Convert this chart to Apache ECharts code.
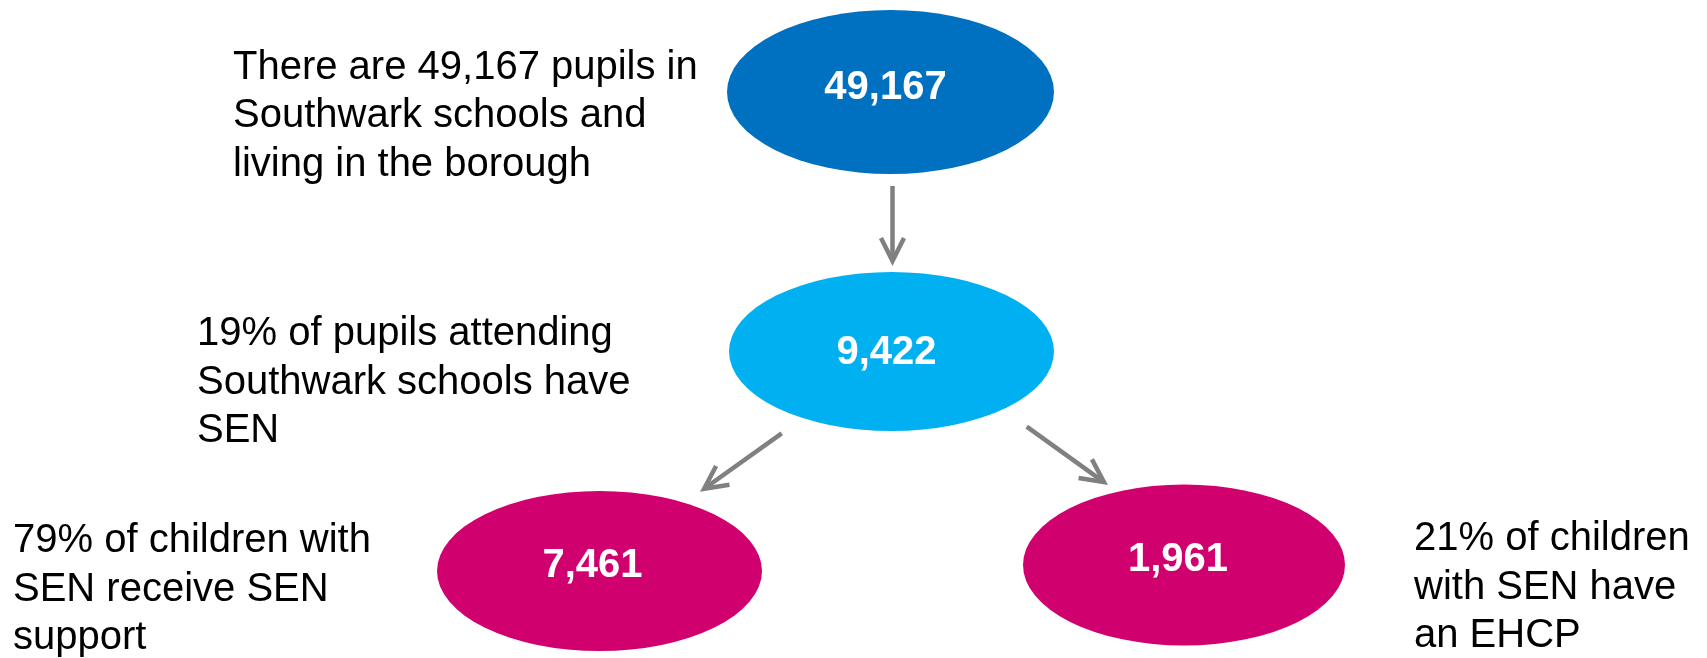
<!DOCTYPE html>
<html>
<head>
<meta charset="utf-8">
<script src="https://cdn.jsdelivr.net/npm/echarts@6/dist/echarts.min.js"></script>
<style>
  html, body { margin: 0; padding: 0; background: #fff; }
  #chart { width: 1707px; height: 658px; }
</style>
</head>
<body>
<div id="chart"></div>
<script>
// data
const nodeNames = ['pupils', 'sen', 'senSupport', 'ehcp']
const nodeValues = [49167, 9422, 7461, 1961]
const captions = [
  'There are 49,167 pupils in\nSouthwark schools and\nliving in the borough',
  '19% of pupils attending\nSouthwark schools have\nSEN',
  '79% of children with\nSEN receive SEN\nsupport',
  '21% of children\nwith SEN have\nan EHCP'
]
const links = [[0, 1], [1, 2], [1, 3]]

// layout (in pixel units of the hidden axes)
const nodeX = [890.5, 891.5, 599.5, 1184]
const nodeY = [92, 351.5, 571, 565]
const nodeW = [327, 325, 325, 322]
const nodeH = [164, 159, 160, 161]
const nodeColors = ['#0070C0', '#00B0F0', '#D0006F', '#D0006F']
const labelOffsets = [[-5, -4], [-5, 1], [-7, -5], [-6, -5]]
const captionX = [233, 197, 13, 1414]
const captionY = [43.5, 310, 517, 515]
const arrowFrom = [[892.5, 186], [781.7, 433.3], [1026.7, 426.7]]
const arrowTo = [[892.5, 266], [700, 491.7], [1108, 485]]

let myChart = echarts.init(document.getElementById('chart'))

const nodeData = nodeValues.map((v, i) => ({
  name: nodeNames[i],
  value: [nodeX[i], nodeY[i], v],
  symbolSize: [nodeW[i], nodeH[i]],
  itemStyle: { color: nodeColors[i], opacity: 1 },
  label: { offset: labelOffsets[i] }
}))

const captionData = captions.map((c, i) => ({
  name: c,
  value: [captionX[i], captionY[i]]
}))

const arrowData = links.map((l, i) => ({
  name: nodeNames[l[0]] + '-' + nodeNames[l[1]],
  value: [arrowFrom[i][0], arrowFrom[i][1], arrowTo[i][0], arrowTo[i][1]]
}))

let option = {
  animation: false,
  backgroundColor: '#fff',
  grid: { left: 0, right: 0, top: 0, bottom: 0 },
  xAxis: { type: 'value', min: 0, max: 1707, show: false },
  yAxis: { type: 'value', min: 0, max: 658, inverse: true, show: false },
  series: [
    {
      name: 'arrows',
      type: 'custom',
      silent: true,
      renderItem: function (params, api) {
        const s = api.coord([api.value(0), api.value(1)])
        const t = api.coord([api.value(2), api.value(3)])
        const dx = t[0] - s[0], dy = t[1] - s[1]
        const len = Math.sqrt(dx * dx + dy * dy)
        const ux = dx / len, uy = dy / len
        const px = -uy, py = ux
        // pull the vertex back so the mitred tip lands on t
        const vx = t[0] - ux * 5, vy = t[1] - uy * 5
        const back = 23, half = 11.5
        const style = { stroke: '#808080', lineWidth: 4.5, fill: null, lineJoin: 'miter', lineCap: 'butt' }
        return {
          type: 'group',
          children: [
            { type: 'line', shape: { x1: s[0], y1: s[1], x2: vx, y2: vy }, style: style },
            {
              type: 'polyline',
              shape: {
                points: [
                  [vx - ux * back + px * half, vy - uy * back + py * half],
                  [vx, vy],
                  [vx - ux * back - px * half, vy - uy * back - py * half]
                ]
              },
              style: style
            }
          ]
        }
      },
      data: arrowData
    },
    {
      name: 'nodes',
      type: 'scatter',
      symbol: 'circle',
      silent: true,
      itemStyle: { opacity: 1 },
      label: {
        show: true,
        position: 'inside',
        color: '#fff',
        fontFamily: 'Liberation Sans, Arial, sans-serif',
        fontWeight: 'bold',
        fontSize: 40,
        formatter: function (p) { return p.value[2].toLocaleString('en-US') }
      },
      data: nodeData
    },
    {
      name: 'captions',
      type: 'scatter',
      symbolSize: 0,
      silent: true,
      itemStyle: { opacity: 1 },
      label: {
        show: true,
        position: [0, 0],
        align: 'left',
        verticalAlign: 'top',
        color: '#000',
        fontFamily: 'Liberation Sans, Arial, sans-serif',
        fontSize: 40,
        lineHeight: 48.5,
        formatter: '{b}'
      },
      data: captionData
    }
  ]
}

myChart.setOption(option)
</script>
</body>
</html>
